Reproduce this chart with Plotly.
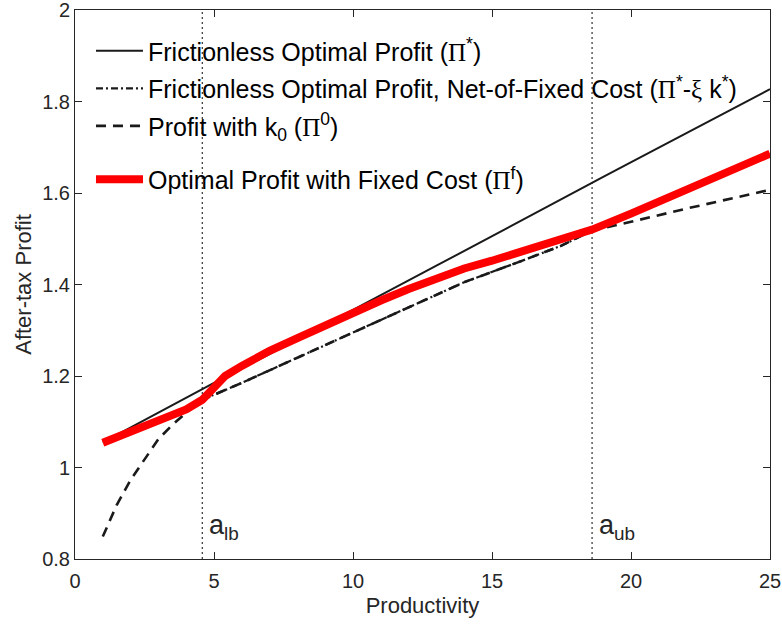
import plotly.graph_objects as go

# ---- data ----
a_lb = 4.58
a_ub = 18.6

x_star = [1, 3, 5, 7, 9, 11, 13, 15, 17, 19, 21, 23, 25]
pi_star = [1.055, 1.12, 1.185, 1.248, 1.313, 1.377, 1.441, 1.506, 1.57, 1.635, 1.699, 1.763, 1.827]

x_net = [4.58, 6, 8, 10, 12, 14, 16, 17.5, 18.6]
pi_net = [1.148, 1.185, 1.24, 1.295, 1.35, 1.405, 1.45, 1.485, 1.518]

x_k0 = [1, 1.5, 2, 2.5, 3, 3.5, 4, 4.58, 6, 8, 10, 12, 14, 16, 17.5, 18.6, 20, 22, 24, 25]
pi_k0 = [0.849, 0.918, 0.973, 1.018, 1.062, 1.093, 1.12, 1.148, 1.185, 1.24, 1.295, 1.35,
         1.405, 1.45, 1.485, 1.518, 1.537, 1.566, 1.594, 1.607]

x_f = [1, 2, 3, 4, 4.58, 5.0, 5.4, 6, 7, 8, 9, 10, 11, 12, 13, 14, 15, 16, 17, 18, 18.6, 20, 22, 24, 25]
pi_f = [1.054, 1.078, 1.1, 1.127, 1.148, 1.172, 1.2, 1.222, 1.255, 1.283, 1.311, 1.338, 1.365,
        1.39, 1.413, 1.435, 1.452, 1.47, 1.489, 1.507, 1.52, 1.555, 1.607, 1.66, 1.686]

x_ticks = [0, 5, 10, 15, 20, 25]
y_ticks = [0.8, 1.0, 1.2, 1.4, 1.6, 1.8, 2.0]
y_tick_text = ["0.8", "1", "1.2", "1.4", "1.6", "1.8", "2"]

SERIF = "font-family:'Liberation Serif'"
PI = f"<span style=\"{SERIF}\">Π</span>"
XI = f"<span style=\"{SERIF}\">ξ</span>"

TXT = "#262626"
fig = go.Figure()

# vertical dotted markers
for xv in (a_lb, a_ub):
    fig.add_trace(go.Scatter(x=[xv, xv], y=[0.8, 2.0], mode="lines",
                             line=dict(color="#404040", width=1.3, dash="2px,3px"),
                             showlegend=False, hoverinfo="skip"))

fig.add_trace(go.Scatter(x=x_star, y=pi_star, mode="lines",
                         name=f"Frictionless Optimal Profit ({PI}<sup>*</sup>)",
                         line=dict(color="#1a1a1a", width=2), legendgroup="a"))
fig.add_trace(go.Scatter(x=x_net, y=pi_net, mode="lines",
                         name=f"Frictionless Optimal Profit, Net-of-Fixed Cost ({PI}<sup>*</sup>-{XI} k<sup>*</sup>)",
                         line=dict(color="#1a1a1a", width=2.2, dash="7px,3px,2px,3px"), legendgroup="b"))
fig.add_trace(go.Scatter(x=x_k0, y=pi_k0, mode="lines",
                         name=f"Profit with k<sub>0</sub> ({PI}<sup>0</sup>)",
                         line=dict(color="#1a1a1a", width=2.6, dash="10px,7px"), legendgroup="c"))
fig.add_trace(go.Scatter(x=x_f, y=pi_f, mode="lines",
                         name=f"Optimal Profit with Fixed Cost ({PI}<sup>f</sup>)",
                         line=dict(color="#ff0000", width=8), legend="legend2"))

fig.add_annotation(x=a_lb + 0.16, y=0.87, text="a<sub>lb</sub>", showarrow=False,
                   xanchor="left", yanchor="middle", font=dict(size=27, color=TXT))
fig.add_annotation(x=a_ub + 0.16, y=0.87, text="a<sub>ub</sub>", showarrow=False,
                   xanchor="left", yanchor="middle", font=dict(size=27, color=TXT))

axis_common = dict(showgrid=False, zeroline=False, showline=True, linecolor=TXT, linewidth=1,
                   mirror="ticks", ticks="inside", ticklen=7, tickcolor=TXT, tickwidth=1,
                   tickfont=dict(size=20, color=TXT), automargin=False, ticklabeloverflow="allow")

fig.update_xaxes(range=[0, 25], tickvals=x_ticks, ticklabelstandoff=4,
                 title=dict(text="Productivity", font=dict(size=22, color=TXT), standoff=6),
                 **axis_common)
fig.update_yaxes(range=[0.8, 2.0], tickvals=y_ticks, ticktext=y_tick_text,
                 title=dict(text="After-tax Profit", font=dict(size=22, color=TXT), standoff=4),
                 **axis_common)

fig.update_layout(
    width=782, height=626,
    margin=dict(l=75, r=12, t=10, b=67),
    paper_bgcolor="white", plot_bgcolor="white",
    font=dict(family="Liberation Sans, Arial, sans-serif", color=TXT),
    legend=dict(x=0.023, y=0.967, xanchor="left", yanchor="top", bgcolor="rgba(0,0,0,0)",
                borderwidth=0, font=dict(size=25, color="#000000"), itemwidth=47,
                tracegroupgap=2),
    legend2=dict(x=0.023, y=0.733, xanchor="left", yanchor="top", bgcolor="rgba(0,0,0,0)",
                 borderwidth=0, font=dict(size=25, color="#000000"), itemwidth=47),
)

fig.write_html("out.html", post_script="document.body.style.margin='0';",
               config={"displayModeBar": False})
